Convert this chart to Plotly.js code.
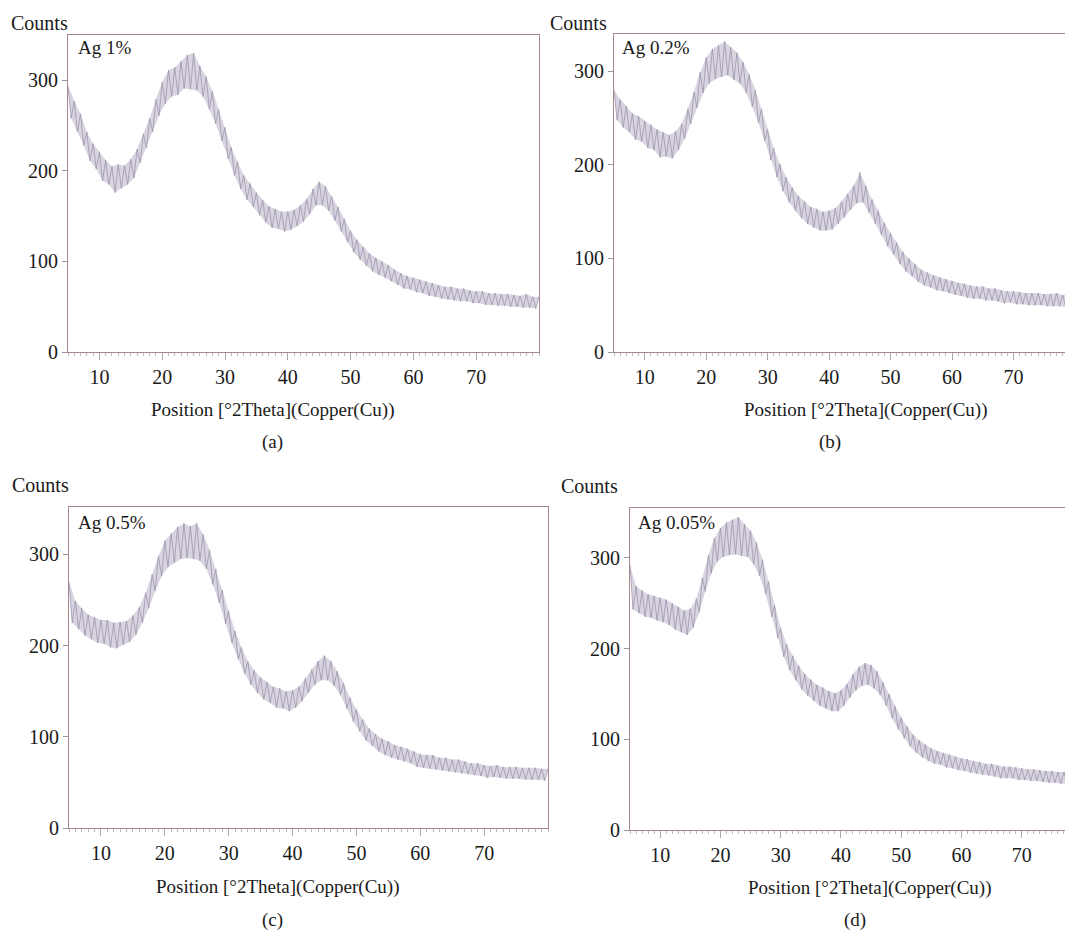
<!DOCTYPE html>
<html><head><meta charset="utf-8">
<script src="https://cdn.plot.ly/plotly-3.0.1.min.js"></script>
<style>html,body{margin:0;padding:0;background:#fff;overflow:hidden;width:1065px;height:935px}#chart{width:1090px;height:935px}</style>
</head><body><div id="chart"></div>
<script>
// 2Theta grid of the scans (degrees)
const thetaStart = 5;
const thetaStep = 0.5;
const xTickVals = [10, 20, 30, 40, 50, 60, 70];
const yTickVals = [0, 100, 200, 300];
const sampleLabels = ["Ag 1%", "Ag 0.2%", "Ag 0.5%", "Ag 0.05%"];
const panelLetters = ["(a)", "(b)", "(c)", "(d)"];
const yMaxes = [350, 340, 352, 355];
const xTitle = "Position [°2Theta](Copper(Cu))";
const yTitle = "Counts";

// counts, 5° .. 80° every 0.5°
const countsAg1 = [294,258,277,243,263,228,243,211,230,202,
221,189,212,185,205,176,207,181,206,185,
213,192,224,209,241,225,258,243,279,261,
298,274,311,282,314,284,321,291,328,290,
330,289,316,282,304,268,288,252,268,233,
248,213,226,195,210,180,195,168,186,160,
176,151,168,143,161,137,158,136,155,133,
155,135,157,139,162,144,169,152,180,162,
188,162,183,156,172,145,160,133,147,121,
134,110,124,102,116,95,109,89,104,85,
100,82,96,78,91,74,87,70,84,69,
82,66,80,65,78,62,76,61,74,59,
72,58,72,57,70,56,70,56,68,54,
67,54,67,52,65,52,65,51,64,51,
64,50,63,50,62,49,64,49,61,48,
61];
const countsAg02 = [280,248,270,240,263,235,255,227,252,225,
247,218,243,216,238,208,235,209,232,207,
236,216,244,228,260,244,278,261,299,277,
315,287,324,292,328,294,332,296,326,291,
320,287,310,277,297,262,280,245,260,226,
238,205,218,187,201,172,187,160,176,151,
167,143,161,137,155,133,153,130,150,130,
151,131,154,137,161,144,169,152,178,159,
192,160,178,149,163,137,151,125,138,113,
127,104,117,94,107,86,100,81,94,75,
88,71,85,69,82,66,80,65,78,63,
76,61,74,60,73,58,71,57,70,57,
70,55,68,55,68,54,66,52,65,53,
65,51,64,51,63,50,63,50,63,50,
62,49,62,49,63,49,61,48,61,49,
61];
const countsAg05 = [270,225,249,218,241,211,234,207,231,203,
228,202,228,198,225,197,226,201,227,204,
233,212,242,225,258,241,278,260,298,276,
315,286,323,291,330,295,334,296,331,295,
334,293,322,284,305,267,284,247,261,224,
238,203,216,185,198,169,183,157,173,148,
165,141,160,137,155,132,153,131,150,128,
151,132,155,139,164,148,174,157,183,162,
189,162,183,156,172,146,159,131,143,117,
130,106,119,96,109,90,103,84,98,80,
95,77,91,75,89,73,87,71,84,67,
81,66,80,65,80,64,77,63,77,62,
75,61,75,60,73,59,71,58,71,57,
69,55,68,56,69,55,67,54,67,54,
67,54,66,53,66,53,66,53,65,52,
65];
const countsAg005 = [292,243,269,239,264,235,260,234,258,231,
256,229,254,226,250,221,246,218,242,215,
244,223,255,240,278,263,303,283,322,296,
333,301,339,303,342,304,345,302,337,301,
330,293,317,280,298,260,274,235,248,212,
223,191,205,176,192,165,181,155,172,148,
166,142,160,137,157,134,153,131,151,131,
154,137,161,146,172,154,180,159,184,160,
182,156,175,149,163,137,150,123,136,111,
124,101,114,92,105,85,99,80,94,76,
90,73,87,72,85,69,83,68,81,66,
79,65,78,63,76,62,75,61,73,60,
73,59,71,57,70,57,70,57,69,55,
68,55,67,54,67,54,66,53,65,52,
65,52,64,51,64,51,63,51,63,50,
63];
const series = [countsAg1, countsAg02, countsAg05, countsAg005];

// ---- layout (pixels) ----
const W = 1090, H = 935;
const boxes = [
  {l:68,  r:539,  t:35,  b:352, counts:[39,23],  tag:[76,47],  title:[272,410], letter:[272,442]},
  {l:614, r:1075, t:34,  b:352, counts:[578,23], tag:[620,47], title:[865,410], letter:[830,442]},
  {l:69,  r:548,  t:507, b:828, counts:[40,485], tag:[76,522], title:[277,887], letter:[272,920]},
  {l:630, r:1082, t:508, b:830, counts:[589,486],tag:[636,522],title:[869,888], letter:[855,920]}
];
const FONT = '"Liberation Serif", "Times New Roman", serif';
const fx = p => p / W, fy = p => 1 - p / H;
const frameColor = 'rgb(170,135,140)';

const traces = [], layout = {
  width: W, height: H, margin: {l:0, r:0, t:0, b:0},
  paper_bgcolor: '#fff', plot_bgcolor: '#fff', showlegend: false,
  font: {family: FONT, size: 19, color: '#1a1a1a'}, annotations: []
};
boxes.forEach((bx, i) => {
  const n = i === 0 ? '' : String(i + 1);
  const ys = series[i];
  // peaks (whole degrees) and troughs (half degrees) of the noisy scan -> shaded noise band
  const peaks = ys.filter((v, k) => k % 2 === 0);
  const troughs = ys.filter((v, k) => k % 2 === 1);
  traces.push({
    type: 'scatter', mode: 'lines', x0: thetaStart, dx: 2 * thetaStep, y: peaks,
    xaxis: 'x' + n, yaxis: 'y' + n, line: {width: 0, color: 'rgba(0,0,0,0)'}, hoverinfo: 'skip'
  });
  traces.push({
    type: 'scatter', mode: 'lines', x0: thetaStart + thetaStep, dx: 2 * thetaStep, y: troughs,
    xaxis: 'x' + n, yaxis: 'y' + n, line: {width: 0, color: 'rgba(0,0,0,0)'},
    fill: 'tonexty', fillcolor: 'rgba(185,178,198,0.55)', hoverinfo: 'skip'
  });
  traces.push({
    type: 'scatter', mode: 'lines', x0: thetaStart, dx: thetaStep, y: ys,
    xaxis: 'x' + n, yaxis: 'y' + n,
    line: {color: 'rgba(155,146,172,0.85)', width: 0.9}, hoverinfo: 'skip'
  });
  layout['xaxis' + n] = {
    domain: [fx(bx.l), fx(bx.r)], range: [5, 80], anchor: 'y' + n,
    showgrid: false, zeroline: false, showline: true, mirror: true,
    linecolor: frameColor, linewidth: 1,
    tickmode: 'array', tickvals: xTickVals, ticks: 'outside', ticklen: 7,
    tickcolor: '#aaa', tickwidth: 1,
    minor: {dtick: 1, ticks: 'outside', ticklen: 3, tickcolor: '#bbb'},
    tickfont: {family: FONT, size: 20, color: '#1a1a1a'}
  };
  layout['yaxis' + n] = {
    domain: [fy(bx.b), fy(bx.t)], range: [0, yMaxes[i]], anchor: 'x' + n,
    showgrid: false, zeroline: false, showline: true, mirror: true,
    linecolor: frameColor, linewidth: 1,
    tickmode: 'array', tickvals: yTickVals, ticks: 'outside', ticklen: 5,
    tickcolor: '#999', tickwidth: 1,
    tickfont: {family: FONT, size: 20, color: '#1a1a1a'}
  };
  const ann = (txt, p, xa, size) => layout.annotations.push({
    text: txt, xref: 'paper', yref: 'paper', x: fx(p[0]), y: fy(p[1]),
    xanchor: xa, yanchor: 'middle', showarrow: false,
    font: {family: FONT, size: size, color: '#1a1a1a'}
  });
  ann(yTitle, bx.counts, 'center', 20);
  ann(sampleLabels[i], bx.tag, 'left', 19);
  ann(xTitle, bx.title, 'center', 19);
  ann(panelLetters[i], bx.letter, 'center', 19);
});
Plotly.newPlot('chart', traces, layout, {displayModeBar: false, staticPlot: true});
</script>
</body></html>
